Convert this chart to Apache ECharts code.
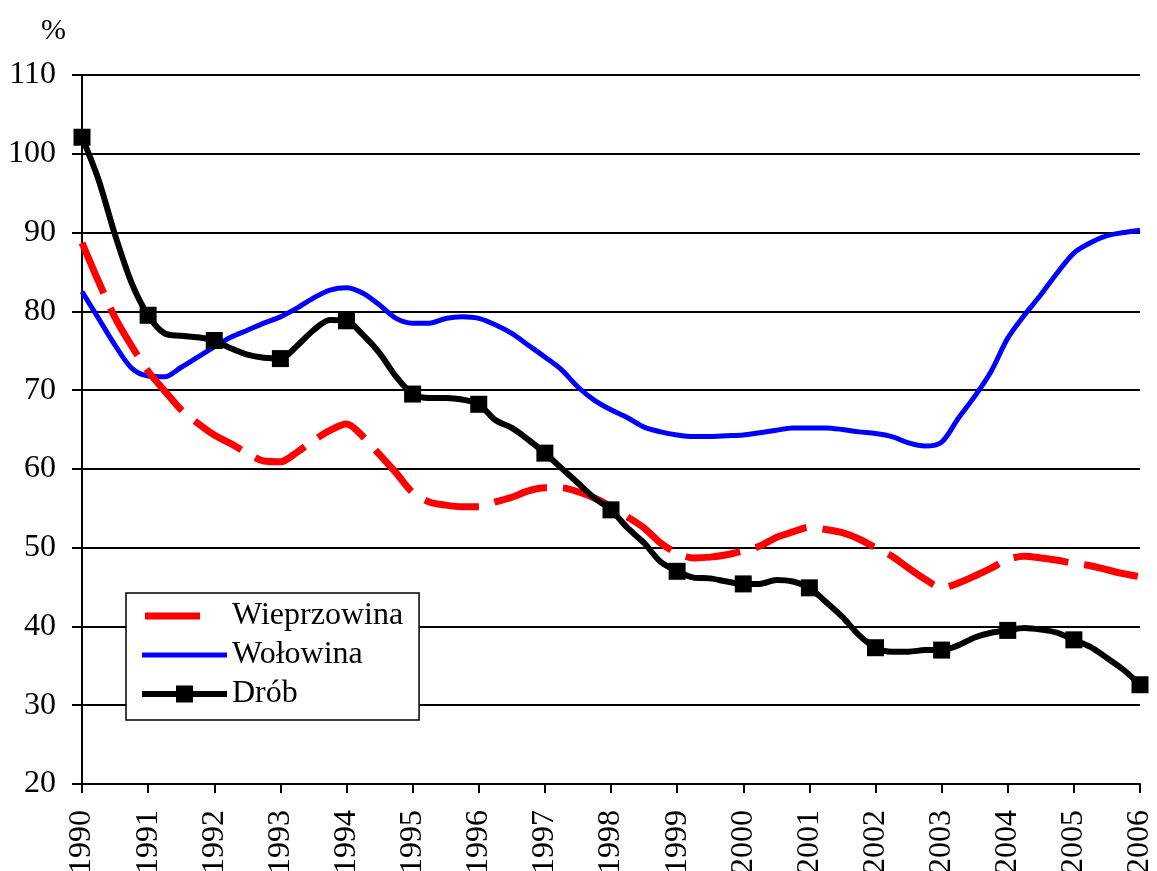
<!DOCTYPE html>
<html>
<head>
<meta charset="utf-8">
<script src="https://cdn.jsdelivr.net/npm/echarts@6/dist/echarts.min.js"></script>
<style>
  html, body { margin: 0; padding: 0; background: #fff; }
  #chart { width: 1157px; height: 871px; }
</style>
</head>
<body>
<div id="chart"></div>
<script>
// quarterly readings, 1990 Q1 .. 2006 Q1 (4 per year)
const startYear = 1990;
const seriesNames = ['Wieprzowina', 'Wołowina', 'Drób'];

const wieprzowina = [
  88.7, 83.8, 79.2, 75.6,
  72.4, 69.9, 67.5, 65.8,
  64.3, 63.2, 62.0, 61.0,
  60.9, 62.1, 63.6, 64.9,
  65.7, 64.1, 61.8, 59.5,
  57.0, 55.8, 55.4, 55.2,
  55.2, 55.8, 56.4, 57.2,
  57.6, 57.6, 57.1, 56.3,
  55.2, 53.9, 52.5, 50.6,
  49.3, 48.7, 48.8, 49.1,
  49.6, 50.2, 51.3, 52.0,
  52.6, 52.3, 51.9, 51.1,
  50.0, 48.9, 47.4, 46.0,
  44.9, 45.5, 46.4, 47.4,
  48.5, 48.9, 48.7, 48.4,
  48.0, 47.7, 47.2, 46.7,
  46.3
];

const wolowina = [
  82.5, 79.1, 75.7, 72.8,
  71.8, 71.7, 72.9, 74.2,
  75.5, 76.7, 77.6, 78.5,
  79.3, 80.4, 81.7, 82.7,
  83.0, 82.3, 80.8, 79.1,
  78.5, 78.5, 79.1, 79.3,
  79.1, 78.3, 77.2, 75.7,
  74.2, 72.6, 70.4, 68.7,
  67.5, 66.5, 65.3, 64.7,
  64.3, 64.1, 64.1, 64.2,
  64.3, 64.6, 64.9, 65.2,
  65.2, 65.2, 65.0, 64.7,
  64.5, 64.1, 63.3, 62.9,
  63.4, 66.4, 69.2, 72.4,
  76.6, 79.5, 82.1, 84.9,
  87.4, 88.7, 89.6, 90.0,
  90.3
];

const drob = [
  102.1, 96.7, 89.7, 83.6,
  79.5, 77.2, 76.9, 76.7,
  76.3, 75.3, 74.5, 74.1,
  74.0, 75.6, 77.6, 78.9,
  78.8, 77.0, 74.7, 71.7,
  69.5, 69.0, 69.0, 68.8,
  68.2, 66.2, 65.2, 63.7,
  62.0, 60.1, 58.2, 56.3,
  54.8, 52.5, 50.6, 48.2,
  47.0, 46.2, 46.1, 45.7,
  45.4, 45.4, 45.9, 45.7,
  44.9, 43.1, 41.2, 38.9,
  37.3, 36.8, 36.8, 37.0,
  37.0, 37.6, 38.6, 39.2,
  39.5, 39.8, 39.6, 39.2,
  38.3, 37.4, 36.0, 34.5,
  32.6
];

const yTicks = { min: 20, max: 110, step: 10 };
const xTicks = { min: 1990, max: 2006, step: 1 };

const FONT = "'Liberation Serif', 'Times New Roman', serif";

// pair each reading with its position in years
const toPoints = arr => arr.map((v, i) => [startYear + i / 4, v]);

// legend icons (box 85 x 17); leading moves pin the bounding box
const iconDash = 'path://M0,0M85,17M3,5H58V12H3Z';
const iconLine = 'path://M0,0M85,17M0,6H85V11H0Z';
const iconMarked = 'path://M0,0M85,17M0,5.5H34V0H51V5.5H85V11.5H51V17H34V11.5H0Z';

const chart = echarts.init(document.getElementById('chart'));

chart.setOption({
  animation: false,
  backgroundColor: '#fff',
  title: {
    text: '%',
    left: 36,
    top: 11,
    textStyle: { fontFamily: FONT, fontSize: 30, fontWeight: 'normal', color: '#000' }
  },
  grid: { left: 82, right: 17, top: 75, bottom: 87, containLabel: false, outerBoundsMode: 'none' },
  legend: {
    orient: 'vertical',
    left: 126,
    top: 593,
    padding: [7, 16, 10, 16],
    borderColor: '#000',
    borderWidth: 1.5,
    backgroundColor: '#fff',
    itemWidth: 85,
    itemHeight: 17,
    itemGap: 7,
    textStyle: { fontFamily: FONT, fontSize: 32, color: '#000', lineHeight: 32 },
    data: [
      { name: seriesNames[0], icon: iconDash },
      { name: seriesNames[1], icon: iconLine },
      { name: seriesNames[2], icon: iconMarked }
    ]
  },
  xAxis: {
    type: 'value',
    min: xTicks.min,
    max: xTicks.max,
    interval: xTicks.step,
    axisLine: { lineStyle: { color: '#000', width: 2 } },
    axisTick: { show: true, length: 9, lineStyle: { color: '#000', width: 2 } },
    axisLabel: {
      rotate: 90,
      margin: 26,
      color: '#000',
      fontFamily: FONT,
      fontSize: 32,
      formatter: v => String(v)
    },
    splitLine: { show: false }
  },
  yAxis: {
    type: 'value',
    min: yTicks.min,
    max: yTicks.max,
    interval: yTicks.step,
    axisLine: { show: true, lineStyle: { color: '#000', width: 2 } },
    axisTick: { show: true, length: 10, lineStyle: { color: '#000', width: 2 } },
    axisLabel: { margin: 26, color: '#000', fontFamily: FONT, fontSize: 32 },
    splitLine: { show: true, lineStyle: { color: '#000', width: 2 } }
  },
  series: [
    {
      name: seriesNames[0],
      type: 'line',
      data: toPoints(wieprzowina),
      smooth: 0.3,
      symbol: 'none',
      z: 3,
      color: '#ff0000',
      lineStyle: { color: '#ff0000', width: 7, type: [55, 16] }
    },
    {
      name: seriesNames[1],
      type: 'line',
      data: toPoints(wolowina),
      smooth: 0.3,
      symbol: 'none',
      z: 2,
      color: '#0000ff',
      lineStyle: { color: '#0000ff', width: 5 }
    },
    {
      name: seriesNames[2],
      type: 'line',
      data: toPoints(drob),
      smooth: 0.3,
      showAllSymbol: true,
      symbol: v => (Number.isInteger(v[0]) ? 'rect' : 'none'),
      symbolSize: 17,
      z: 4,
      color: '#000',
      itemStyle: { color: '#000' },
      lineStyle: { color: '#000', width: 6 }
    }
  ]
});
</script>
</body>
</html>
